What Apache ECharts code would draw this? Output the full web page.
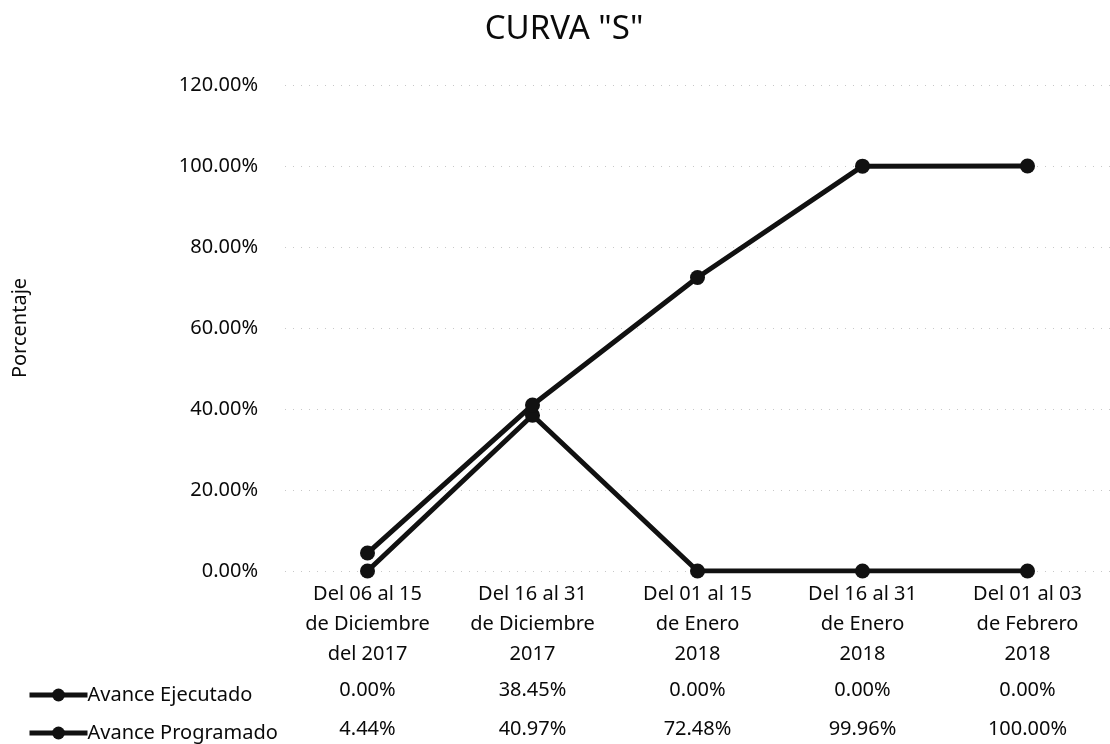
<!DOCTYPE html>
<html>
<head>
<meta charset="utf-8">
<script src="https://cdn.jsdelivr.net/npm/echarts@6/dist/echarts.min.js"></script>
<style>
  html, body { margin: 0; padding: 0; background: #fff; }
  #chart { width: 1110px; height: 744px; }
</style>
</head>
<body>
<div id="chart"></div>
<script>
// datos
const periodos = [
  'Del 06 al 15\nde Diciembre\ndel 2017',
  'Del 16 al 31\nde Diciembre\n2017',
  'Del 01 al 15\nde Enero\n2018',
  'Del 16 al 31\nde Enero\n2018',
  'Del 01 al 03\nde Febrero\n2018'
]
const ejecutado = [0.00, 38.45, 0.00, 0.00, 0.00]
const programado = [4.44, 40.97, 72.48, 99.96, 100.00]
const yTicks = { min: 0, max: 120, interval: 20 }

const fuente = 'Noto Sans'
const negro = '#0a0a0a'
const pct = v => v.toFixed(2) + '%'

// fila de tabla bajo el eje (eje categoria extra, solo etiquetas)
const fila = (valores, offset) => ({
  type: 'category',
  gridIndex: 0,
  position: 'bottom',
  offset: offset,
  data: valores.map(pct),
  axisLine: { show: false },
  axisTick: { show: false },
  axisLabel: {
    margin: 8,
    fontFamily: fuente,
    fontSize: 20,
    lineHeight: 30,
    color: negro,
    interval: 0
  }
})

const chart = echarts.init(document.getElementById('chart'))
const option = {
  animation: false,
  title: {
    text: 'CURVA "S"',
    left: 559,
    textAlign: 'center',
    top: 8,
    textStyle: { fontFamily: fuente, fontSize: 33, fontWeight: 'normal', color: negro }
  },
  legend: {
    orient: 'vertical',
    left: 22,
    top: 680,
    height: 120,
    itemWidth: 58,
    itemHeight: 16,
    itemGap: 18,
    data: ['Avance Ejecutado', 'Avance Programado'],
    lineStyle: { width: 5 },
    textStyle: { fontFamily: fuente, fontSize: 20, color: negro, padding: [0, 0, 0, -5] }
  },
  grid: { left: 285, right: -22, top: 85, bottom: 166, containLabel: false },
  xAxis: [
    {
      type: 'category',
      data: periodos,
      axisLine: { show: false },
      axisTick: { show: false },
      axisLabel: {
        margin: 8,
        fontFamily: fuente,
        fontSize: 20,
        lineHeight: 30,
        color: negro,
        interval: 0
      }
    },
    fila(ejecutado, 96),
    fila(programado, 135)
  ],
  yAxis: {
    type: 'value',
    min: yTicks.min,
    max: yTicks.max,
    interval: yTicks.interval,
    name: 'Porcentaje',
    nameLocation: 'middle',
    nameGap: 255,
    nameTextStyle: { fontFamily: fuente, fontSize: 20, color: negro },
    axisLine: { show: false },
    axisTick: { show: false },
    axisLabel: {
      margin: 27,
      fontFamily: fuente,
      fontSize: 20,
      color: negro,
      formatter: v => v.toFixed(2) + '%'
    },
    splitLine: { lineStyle: { color: '#c8c8c8', type: [1, 7], width: 1 } }
  },
  series: [
    {
      name: 'Avance Ejecutado',
      type: 'line',
      data: ejecutado,
      symbol: 'circle',
      symbolSize: 15,
      lineStyle: { color: '#111', width: 5 },
      itemStyle: { color: '#111' }
    },
    {
      name: 'Avance Programado',
      type: 'line',
      data: programado,
      symbol: 'circle',
      symbolSize: 15,
      lineStyle: { color: '#111', width: 5 },
      itemStyle: { color: '#111' }
    }
  ]
}
chart.setOption(option)
</script>
</body>
</html>
